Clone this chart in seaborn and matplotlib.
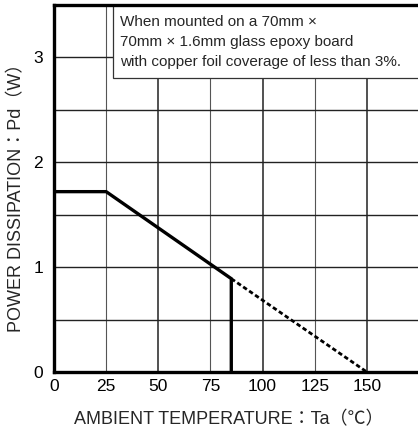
import matplotlib
matplotlib.use("Agg")
import matplotlib.pyplot as plt
import matplotlib.patches as mpatches
import seaborn as sns
import pandas as pd

# Data
temp_solid = [0, 25, 85, 85]
pd_solid = [1.72, 1.72, 0.89, 0.0]
temp_dash = [85, 150]
pd_dash = [0.89, 0.0]
x_ticks = [0, 25, 50, 75, 100, 125, 150]
y_ticks = [0, 1, 2, 3]
note_lines = ["When mounted on a 70mm \u00d7",
              "70mm \u00d7 1.6mm glass epoxy board",
              "with copper foil coverage of less than 3%."]

sns.set_theme(style="white")
plt.rcParams['font.family'] = ['Liberation Sans', 'Noto Sans CJK JP', 'DejaVu Sans']

W, H = 418, 433
fig = plt.figure(figsize=(W / 100, H / 100), dpi=100)
ax = fig.add_axes([54 / W, (H - 372) / H, (419 - 54) / W, (372 - 5) / H])

df_s = pd.DataFrame({"t": temp_solid, "p": pd_solid})
df_d = pd.DataFrame({"t": temp_dash, "p": pd_dash})
sns.lineplot(data=df_s, x="t", y="p", sort=False, estimator=None, color="black",
             lw=2.4, ax=ax, zorder=5)
sns.lineplot(data=df_d, x="t", y="p", sort=False, estimator=None, color="black",
             lw=2.0, ax=ax, zorder=5, dashes=False, linestyle=(0, (1.6, 1.0)))

ax.set_xlim(0, 175)
ax.set_ylim(0, 3.5)
for xv in [25, 50, 75, 100, 125, 150]:
    ax.axvline(xv, color="#222222" if xv % 50 == 0 else "#555555",
               lw=1.1 if xv % 50 == 0 else 0.8, zorder=1)
for yv in [0.5, 1, 1.5, 2, 2.5, 3]:
    ax.axhline(yv, color="#222222", lw=1.0, zorder=1)

ax.set_xticks(x_ticks)
ax.set_xticklabels([str(v) for v in x_ticks])
ax.set_yticks(y_ticks)
ax.set_yticklabels([str(v) for v in y_ticks])
ax.tick_params(axis="both", length=0, labelsize=12.5, colors="black")
ax.tick_params(axis="x", pad=5)
ax.tick_params(axis="y", pad=8)
ax.set_xlabel("")
ax.set_ylabel("")

for s in ["left", "bottom", "top"]:
    ax.spines[s].set_visible(True)
    ax.spines[s].set_color("black")
    ax.spines[s].set_linewidth(2.4)
ax.spines["right"].set_visible(False)

# note box (top edge under the top spine)
box_x0 = (113 - 54) / 2.088
box_y0 = (372 - 78) / 104.86
rect = mpatches.Rectangle((box_x0, box_y0), 200 - box_x0, 3.5 - box_y0, fc="white",
                          ec="#333333", lw=0.9, zorder=2, clip_on=True)
ax.add_patch(rect)
ax.text((120 - 54) / 365, 1 - 10 / 367, "\n".join(note_lines), transform=ax.transAxes,
        va="top", ha="left", fontsize=11, linespacing=1.55, zorder=10)

fig.text(229 / W, 1 - 420 / H, "AMBIENT TEMPERATURE\uff1aTa\uff08\u2103\uff09",
         ha="center", va="center", fontsize=13)
fig.text(17 / W, 1 - 193 / H, "POWER DISSIPATION\uff1aPd\uff08W\uff09",
         ha="center", va="center", rotation=90, fontsize=13)

fig.savefig("out.png", dpi=100)
